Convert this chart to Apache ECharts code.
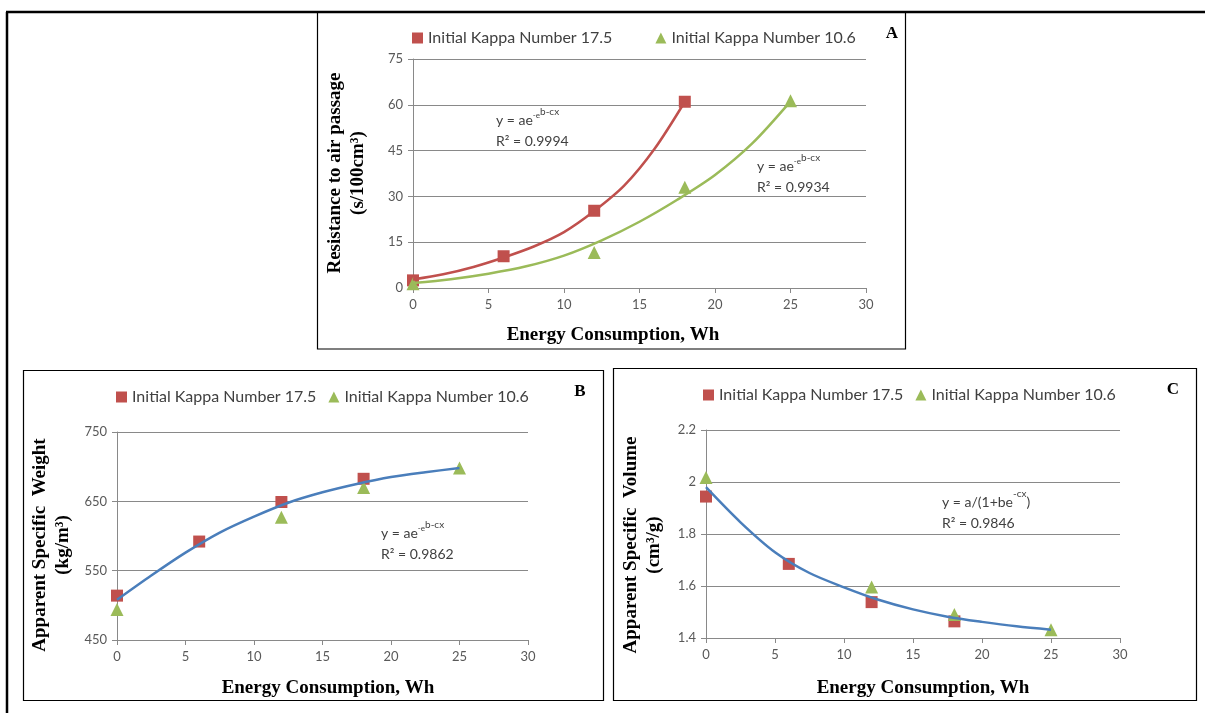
<!DOCTYPE html>
<html><head><meta charset="utf-8">
<script src="https://cdn.jsdelivr.net/npm/echarts@6/dist/echarts.min.js"></script>
<style>html,body{margin:0;padding:0;background:#fff}#c{width:1205px;height:713px}</style>
</head><body><div id="c"></div><script>
// ---------- data ----------
const seriesNames = ['Initial Kappa Number 17.5', 'Initial Kappa Number 10.6'];
const xTicks = [0, 5, 10, 15, 20, 25, 30];
const aYTicks = [0, 15, 30, 45, 60, 75];
const bYTicks = [450, 550, 650, 750];
const cYTicks = [1.4, 1.6, 1.8, 2.0, 2.2];

// Panel A: resistance to air passage
const aRedX = [0, 6, 12, 18];
const aRedY = [2.5, 10.4, 25.3, 61.0];
const aGreenX = [0, 12, 18, 25];
const aGreenY = [1.4, 11.6, 33.0, 61.3];
const aRedFitX = [0, 2, 4, 6, 8, 10, 12, 14, 16, 18];
const aRedFitY = [2.8, 4.5, 6.9, 10.0, 13.6, 18.3, 25.2, 33.6, 45.6, 61.0];
const aGreenFitX = [0, 2.5, 5, 7.5, 10, 12.5, 15, 17.5, 20, 22.5, 25];
const aGreenFitY = [1.6, 2.9, 4.7, 7.1, 10.6, 15.6, 21.7, 28.9, 37.0, 47.5, 61.1];

// Panel B: apparent specific weight
const bRedX = [0, 6, 12, 18];
const bRedY = [514, 592, 649, 682.5];
const bGreenX = [0, 12, 18, 25];
const bGreenY = [494, 627, 670, 698];
const bFitX = [0, 2.5, 5, 7.5, 10, 12.5, 15, 17.5, 20, 22.5, 25];
const bFitY = [508, 543, 576, 605, 628, 648, 663, 675, 685, 692, 698];

// Panel C: apparent specific volume
const cRedX = [0, 6, 12, 18];
const cRedY = [1.944, 1.685, 1.538, 1.464];
const cGreenX = [0, 12, 18, 25];
const cGreenY = [2.017, 1.596, 1.490, 1.432];
const cFitX = [0, 2.5, 5, 7.5, 10, 12.5, 15, 17.5, 20, 22.5, 25];
const cFitY = [1.98, 1.845, 1.73, 1.65, 1.595, 1.547, 1.51, 1.482, 1.462, 1.445, 1.432];

// ---------- style ----------
const RED = '#C0504D', GREEN = '#9BBB59', BLUE = '#4A7EBB';
const GRIDC = '#898989', LABELC = '#595959', TEXTC = '#404040';
const SANS = 'Lato', SERIF = 'Liberation Serif';

function pairs(xs, ys) { return xs.map((x, i) => [x, ys[i]]); }
function step(t) { return Math.round((t[1] - t[0]) * 1000) / 1000; }

function xAxis(gi) {
  return {
    type: 'value', gridIndex: gi, min: xTicks[0], max: xTicks[xTicks.length - 1], interval: step(xTicks),
    axisLine: { show: true, lineStyle: { color: GRIDC, width: 1 } },
    axisTick: { show: true, length: 5, lineStyle: { color: GRIDC } },
    splitLine: { show: false },
    axisLabel: { color: LABELC, fontFamily: SANS, fontSize: 13, margin: 10 }
  };
}
function yAxis(gi, ticks) {
  return {
    type: 'value', gridIndex: gi, min: ticks[0], max: ticks[ticks.length - 1], interval: step(ticks),
    axisLine: { show: true, lineStyle: { color: GRIDC, width: 1 } },
    axisTick: { show: true, length: 5, lineStyle: { color: GRIDC } },
    splitLine: { show: true, lineStyle: { color: GRIDC, width: 1 } },
    axisLabel: { color: LABELC, fontFamily: SANS, fontSize: 13, margin: 10 }
  };
}
function scatter(gi, idx, xs, ys) {
  return {
    type: 'scatter', name: seriesNames[idx], xAxisIndex: gi, yAxisIndex: gi,
    data: pairs(xs, ys), symbol: idx === 0 ? 'rect' : 'triangle', symbolSize: idx === 0 ? 12 : 13,
    itemStyle: { color: idx === 0 ? RED : GREEN, opacity: 1 }, z: 3
  };
}
function fit(gi, name, xs, ys, color) {
  return {
    type: 'line', name: name, xAxisIndex: gi, yAxisIndex: gi, data: pairs(xs, ys),
    smooth: 0.3, showSymbol: false, symbol: 'none', silent: true,
    lineStyle: { color: color, width: 2.5 }, itemStyle: { color: color }, z: 4
  };
}
function legend(left, top, gap) {
  return {
    left: left, top: top, itemWidth: 11, itemHeight: 11, itemGap: gap,
    textStyle: { fontFamily: SANS, fontSize: 16, color: TEXTC },
    data: [{ name: seriesNames[0], icon: 'rect' }, { name: seriesNames[1], icon: 'triangle' }]
  };
}
const supRich = {
  s1: { fontFamily: SANS, fontSize: 8, fill: TEXTC, color: TEXTC, padding: [0, 0, 9, 0] },
  s2: { fontFamily: SANS, fontSize: 10, fill: TEXTC, color: TEXTC, padding: [0, 0, 16, 0] },
  n: { fontFamily: SANS, fontSize: 14, fill: TEXTC, color: TEXTC }
};
function txt(x, y, text, opt) {
  opt = opt || {};
  return {
    type: 'text', x: x, y: y, rotation: opt.rot || 0, z: 10,
    style: Object.assign({
      text: text, fill: opt.color || '#000', fontFamily: opt.family || SANS,
      fontSize: opt.size || 14, fontWeight: opt.weight || 'normal',
      textAlign: opt.align || 'left', align: opt.align || 'left',
      textVerticalAlign: 'middle', verticalAlign: 'middle', lineHeight: opt.lh || undefined
    }, opt.rich ? { rich: opt.rich } : {})
  };
}
function eqGompertz(x, y, r2) {
  return [
    txt(x, y, '{n|y = ae}{s1|-e}{s2|b-cx}', { rich: supRich, color: TEXTC }),
    txt(x, y + 21, 'R² = ' + r2, { color: TEXTC, size: 14 })
  ];
}
const titleOpt = { family: SERIF, weight: 'bold', size: 19, align: 'center' };
const ytitleOpt = { family: SERIF, weight: 'bold', size: 19, align: 'center', rot: Math.PI / 2, lh: 23 };
const letterOpt = { family: SERIF, weight: 'bold', size: 17, align: 'center' };

const option = {
  backgroundColor: '#fff',
  animation: false,
  grid: [
    { left: 413, right: 339, top: 59, bottom: 425 },
    { left: 117, right: 677, top: 432, bottom: 73 },
    { left: 706, right: 85, top: 430, bottom: 75 }
  ],
  xAxis: [xAxis(0), xAxis(1), xAxis(2)],
  yAxis: [yAxis(0, aYTicks), yAxis(1, bYTicks), yAxis(2, cYTicks)],
  legend: [legend(407, 25, 43), legend(111, 384, 12), legend(698, 382, 12)],
  series: [
    fit(0, 'fitA1', aRedFitX, aRedFitY, RED),
    fit(0, 'fitA2', aGreenFitX, aGreenFitY, GREEN),
    scatter(0, 0, aRedX, aRedY),
    scatter(0, 1, aGreenX, aGreenY),
    fit(1, 'fitB', bFitX, bFitY, BLUE),
    scatter(1, 0, bRedX, bRedY),
    scatter(1, 1, bGreenX, bGreenY),
    fit(2, 'fitC', cFitX, cFitY, BLUE),
    scatter(2, 0, cRedX, cRedY),
    scatter(2, 1, cGreenX, cGreenY)
  ],
  graphic: [
    { type: 'line', shape: { x1: 6, y1: 12, x2: 1205, y2: 12 }, style: { stroke: '#000', lineWidth: 2.5 } },
    { type: 'line', shape: { x1: 7, y1: 12, x2: 7, y2: 713 }, style: { stroke: '#000', lineWidth: 2.5 } },
    { type: 'rect', shape: { x: 317.5, y: 12, width: 588, height: 337 }, style: { fill: null, stroke: '#000', lineWidth: 1.2 } },
    { type: 'rect', shape: { x: 23.5, y: 370.5, width: 580, height: 330 }, style: { fill: null, stroke: '#000', lineWidth: 1.2 } },
    { type: 'rect', shape: { x: 613.5, y: 368.5, width: 583, height: 332 }, style: { fill: null, stroke: '#000', lineWidth: 1.2 } },
    txt(892, 34, 'A', letterOpt),
    txt(580, 392, 'B', letterOpt),
    txt(1173, 390, 'C', letterOpt),
    txt(613, 335, 'Energy Consumption, Wh', titleOpt),
    txt(328, 688, 'Energy Consumption, Wh', titleOpt),
    txt(923, 688, 'Energy Consumption, Wh', titleOpt),
    txt(347, 173, 'Resistance to air passage\n(s/100cm³)', ytitleOpt),
    txt(52, 545, 'Apparent Specific  Weight\n(kg/m³)', ytitleOpt),
    txt(643, 545, 'Apparent Specific  Volume\n(cm³/g)', ytitleOpt)
  ].concat(
    eqGompertz(496, 120, '0.9994'),
    eqGompertz(757, 166, '0.9934'),
    eqGompertz(381, 533, '0.9862'),
    [
      txt(942, 502, '{n|y = a/(1+be}{s2|-cx}{n|)}', { rich: supRich, color: TEXTC }),
      txt(942, 523, 'R² = 0.9846', { color: TEXTC, size: 14 })
    ]
  )
};
const chart = echarts.init(document.getElementById('c'), null, { renderer: 'canvas' });
chart.setOption(option);
</script></body></html>
